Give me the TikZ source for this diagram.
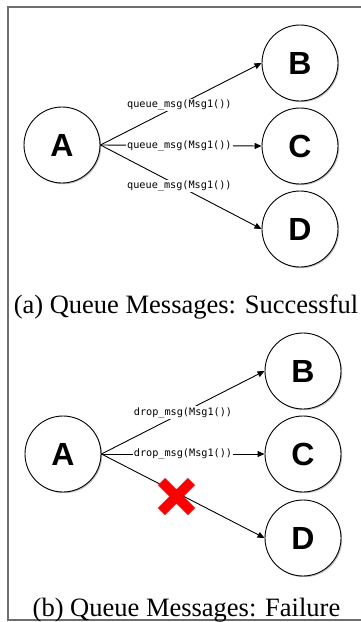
\documentclass[tikz,border=0pt]{standalone}
\usepackage{fontspec}
\setmainfont{Liberation Serif}
\newfontfamily\circfont{Liberation Sans}
\newfontfamily\codefont{DejaVu Sans Mono}
\usetikzlibrary{arrows.meta,shadows}
\definecolor{framegray}{RGB}{110,110,110}
\begin{document}
\begin{tikzpicture}[x=1pt,y=-1pt,
  peer/.style={circle,draw=black,line width=0.9pt,fill=white,minimum size=76pt,inner sep=0pt,
    font=\circfont\bfseries\fontsize{32}{36}\selectfont,
    drop shadow={shadow xshift=1.2pt,shadow yshift=-1.2pt,opacity=0.25,fill=black}},
  msg/.style={-{Triangle[length=7pt,width=6pt]},line width=0.9pt,black},
  lbl/.style={fill=white,inner sep=1pt,font=\codefont\fontsize{10.2}{12}\selectfont,pos=0.49},
  captext/.style={anchor=base,font=\fontsize{26.5}{30}\selectfont},
  xbar/.style={red,line width=10pt}]
\useasboundingbox (0,0) rectangle (361,622);
\draw[framegray,line width=1.5pt] (361,7) -- (8,7) -- (8,620) -- (361,620);
% panel (a)
\node[peer] (aA) at (62,145) {A};
\node[peer] (aB) at (300,63) {B};
\node[peer] (aC) at (300,146) {C};
\node[peer] (aD) at (300,229) {D};
\draw[msg] (aA.east) -- node[lbl] (la1) {queue\_msg(Msg1())} (aB.west);
\draw[msg] (aA.east) -- node[lbl] (la2) {queue\_msg(Msg1())} (aC.west);
\draw[msg] (aA.east) -- node[lbl] (la3) {queue\_msg(Msg1())} (aD.west);
\node[captext] (capa) at (186,313) {(a) Queue Messages: Successful};
% panel (b)
\node[peer] (bA) at (63,454) {A};
\node[peer] (bB) at (303,371) {B};
\node[peer] (bC) at (303,454) {C};
\node[peer] (bD) at (303,538) {D};
\draw[msg] (bA.east) -- node[lbl,pos=0.5] (lb1) {drop\_msg(Msg1())} (bB.west);
\draw[msg] (bA.east) -- node[lbl,pos=0.5] (lb2) {drop\_msg(Msg1())} (bC.west);
\draw[msg] (bA.east) -- (bD.west);
\coordinate (xc) at (176.5,496.5);
\draw[xbar] ([shift={(-15,-15)}]xc) -- ([shift={(15,15)}]xc);
\draw[xbar] ([shift={(-15,15)}]xc) -- ([shift={(15,-15)}]xc);
\node[captext] (capb) at (186.5,616) {(b) Queue Messages: Failure};
\end{tikzpicture}
\end{document}
